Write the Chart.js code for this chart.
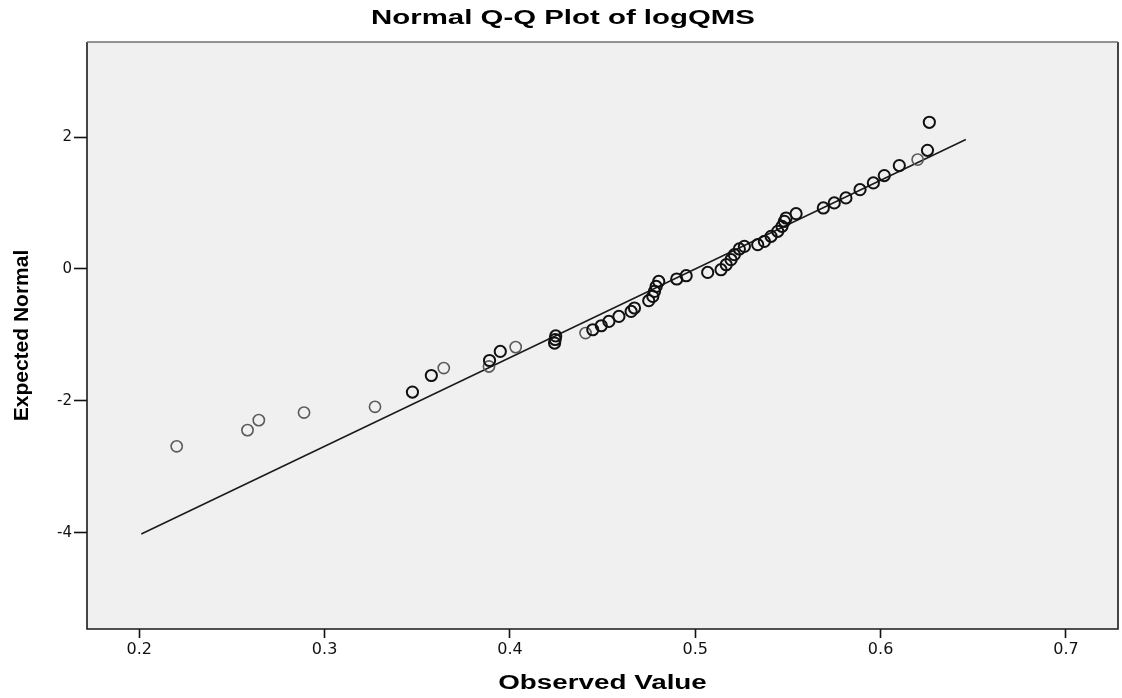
<!DOCTYPE html>
<html>
<head>
<meta charset="utf-8">
<title>Normal Q-Q Plot of logQMS</title>
<script src="https://cdn.jsdelivr.net/npm/chart.js@4.4.1/dist/chart.umd.min.js"></script>
<style>
  html, body { margin: 0; padding: 0; background: #fff; }
  canvas { display: block; }
</style>
</head>
<body>
<canvas id="grafico" width="1122" height="698"></canvas>
<script>
// Valores observados (logQMS) e normais esperados de cada ponto
const valorObservado = [
  0.2202, 0.2584, 0.2645, 0.2889, 0.3272, 0.3474, 0.3576, 0.3643, 0.3887, 0.3890,
  0.3948, 0.4031, 0.4241, 0.4244, 0.4247, 0.4408, 0.4447, 0.4493, 0.4534, 0.4588,
  0.4654, 0.4672, 0.4749, 0.4771, 0.4780, 0.4789, 0.4803, 0.4900, 0.4951, 0.5067,
  0.5139, 0.5167, 0.5193, 0.5211, 0.5238, 0.5265, 0.5337, 0.5373, 0.5409, 0.5445,
  0.5468, 0.5481, 0.5490, 0.5544, 0.5691, 0.5750, 0.5813, 0.5889, 0.5961, 0.6020,
  0.6101, 0.6200, 0.6253, 0.6263
];
const normalEsperado = [
  -2.690, -2.445, -2.293, -2.178, -2.091, -1.868, -1.616, -1.503, -1.479, -1.388,
  -1.251, -1.185, -1.124, -1.070, -1.015, -0.972, -0.922, -0.861, -0.795, -0.720,
  -0.644, -0.592, -0.481, -0.416, -0.340, -0.264, -0.188, -0.152, -0.102, -0.052,
  -0.011, 0.065, 0.141, 0.217, 0.304, 0.343, 0.369, 0.419, 0.495, 0.571,
  0.647, 0.723, 0.774, 0.840, 0.926, 1.002, 1.078, 1.204, 1.306, 1.417,
  1.569, 1.660, 1.800, 2.226
];
// Quantas observações empatadas caem em cada ponto
const empates = [
  1, 1, 1, 1, 1, 2, 2, 1, 1, 2,
  2, 1, 2, 2, 2, 1, 2, 2, 2, 2,
  2, 2, 2, 2, 2, 2, 2, 2, 2, 2,
  2, 2, 2, 2, 2, 2, 2, 2, 2, 2,
  2, 2, 2, 2, 2, 2, 2, 2, 2, 2,
  2, 1, 2, 2
];

// Reta de referência (extremos)
const retaX = [0.2011, 0.6460];
const retaY = [-4.02, 1.965];

// Marcas dos eixos
const ticksX = [0.2, 0.3, 0.4, 0.5, 0.6, 0.7];
const ticksY = [-4, -2, 0, 2];

const pontos = valorObservado.map((x, i) => ({ x, y: normalEsperado[i] }));
const reta = retaX.map((x, i) => ({ x, y: retaY[i] }));

// Texto esticado na horizontal
const textoEsticado = (ctx, texto, cx, cy, fonte, escalaX) => {
  ctx.save();
  ctx.font = fonte;
  ctx.fillStyle = '#000';
  ctx.textAlign = 'center';
  ctx.textBaseline = 'middle';
  ctx.translate(cx, cy);
  ctx.scale(escalaX, 1);
  ctx.fillText(texto, 0, 0);
  ctx.restore();
};

// Fundo cinza, moldura e títulos
const moldura = {
  id: 'moldura',
  beforeDraw: (chart) => {
    const { ctx, chartArea: a } = chart;
    ctx.save();
    ctx.fillStyle = '#f0f0f0';
    ctx.fillRect(a.left, a.top, a.right - a.left, a.bottom - a.top);
    ctx.restore();
  },
  afterDraw: (chart) => {
    const { ctx, chartArea: a } = chart;
    ctx.save();
    ctx.lineWidth = 1.6;
    ctx.strokeStyle = '#1a1a1a';
    ctx.beginPath();
    ctx.moveTo(a.left, a.top);
    ctx.lineTo(a.left, a.bottom);
    ctx.lineTo(a.right, a.bottom);
    ctx.lineTo(a.right, a.top);
    ctx.stroke();
    ctx.strokeStyle = '#707070';
    ctx.beginPath();
    ctx.moveTo(a.left, a.top);
    ctx.lineTo(a.right, a.top);
    ctx.stroke();
    ctx.restore();

    const fonte = 'bold 20px "Liberation Sans", Arial, sans-serif';
    textoEsticado(ctx, 'Normal Q-Q Plot of logQMS', 563, 18, fonte, 1.47);
    textoEsticado(ctx, 'Observed Value', (a.left + a.right) / 2, 683, fonte, 1.39);
  }
};

const ctx = document.getElementById('grafico').getContext('2d');
new Chart(ctx, {
  type: 'scatter',
  data: {
    datasets: [
      {
        label: 'logQMS',
        data: pontos,
        pointStyle: 'circle',
        pointRadius: 5.6,
        pointHoverRadius: 5.6,
        pointBorderWidth: empates.map((n) => (n > 1 ? 2 : 1.6)),
        pointBackgroundColor: 'rgba(0,0,0,0)',
        pointBorderColor: empates.map((n) => (n > 1 ? '#111' : '#5a5a5a')),
        order: 1
      },
      {
        type: 'line',
        label: 'Referência',
        data: reta,
        borderColor: '#1a1a1a',
        borderWidth: 1.5,
        pointRadius: 0,
        fill: false,
        order: 2
      }
    ]
  },
  options: {
    responsive: false,
    animation: false,
    layout: { autoPadding: false, padding: { top: 42, right: 4, left: 0, bottom: 0 } },
    plugins: {
      legend: { display: false },
      tooltip: { enabled: false }
    },
    scales: {
      x: {
        type: 'linear',
        min: 0.1718,
        max: 0.7281,
        afterFit: (escala) => {
          escala.height = 69;
          escala.paddingLeft = 0;
          escala.paddingRight = 0;
        },
        afterBuildTicks: (escala) => { escala.ticks = ticksX.map((v) => ({ value: v })); },
        border: { display: false },
        grid: { drawOnChartArea: false, drawTicks: true, tickLength: 9, tickColor: '#111', tickWidth: 1.6 },
        ticks: {
          color: '#111',
          padding: 2,
          font: { family: '"DejaVu Sans", sans-serif', size: 16 },
          callback: (v) => v.toFixed(1)
        }
      },
      y: {
        type: 'linear',
        min: -5.462,
        max: 3.444,
        afterFit: (escala) => {
          escala.width = 87;
          escala.paddingTop = 0;
          escala.paddingBottom = 0;
        },
        afterBuildTicks: (escala) => { escala.ticks = ticksY.map((v) => ({ value: v })); },
        border: { display: false },
        grid: { drawOnChartArea: false, drawTicks: true, tickLength: 13, tickColor: '#111', tickWidth: 1.6 },
        ticks: {
          color: '#111',
          padding: 2,
          font: { family: '"DejaVu Sans", sans-serif', size: 15 },
          callback: (v) => String(v)
        },
        title: {
          display: true,
          text: 'Expected Normal',
          color: '#000',
          font: { family: '"Liberation Sans", Arial, sans-serif', weight: 'bold', size: 21 },
          padding: { top: 10, bottom: 0 }
        }
      }
    }
  },
  plugins: [moldura]
});
</script>
</body>
</html>
